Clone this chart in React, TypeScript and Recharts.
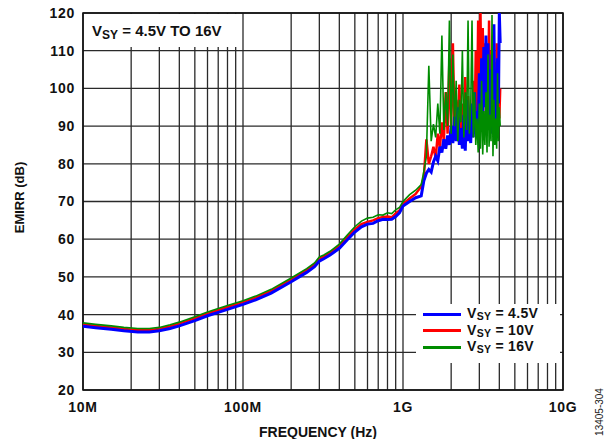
import React from 'react';
import { LineChart, Line, XAxis, YAxis, CartesianGrid, ReferenceArea } from 'recharts';

// Frequencies in MHz
const FREQ_MHZ = [
  10, 12, 15, 18, 22, 26, 30, 35, 40, 50, 60, 70, 80, 100, 120, 150, 200, 250, 280, 300,
  320, 350, 400, 450, 500, 550, 600, 650, 700, 750, 800, 850, 900, 950, 1000, 1100, 1200, 1300, 1350,
  1400, 1450, 1500, 1550, 1600, 1650, 1700, 1750, 1800, 1850, 1900, 1950, 2000, 2050, 2100, 2150,
  2200, 2250, 2300, 2350, 2400, 2450, 2500, 2550, 2600, 2650, 2700, 2750, 2800, 2850, 2900, 2950,
  3000, 3050, 3100, 3150, 3200, 3250, 3300, 3350, 3400, 3450, 3500, 3550, 3600, 3650, 3700, 3750,
  3800, 3850, 3900, 3950, 4000, 4050,
];

const EMIRR_4V5 = [
  36.9, 36.5, 36.1, 35.7, 35.4, 35.4, 35.7, 36.3, 37.0, 38.4, 39.7, 40.6, 41.4, 42.7, 43.9, 45.7, 48.7, 51.2, 52.7, 54.2,
  54.8, 55.8, 57.6, 59.9, 61.9, 63.3, 64.0, 64.2, 64.9, 65.3, 65.2, 65.3, 66.0, 67.0, 68.8, 70.0, 71.0, 71.5, 75.5,
  77.5, 78.5, 77.8, 80.5, 82.0, 80.8, 84.5, 83.0, 86.5, 84.0, 87.5, 85.0, 90.0, 85.5, 92.5, 86.0,
  95.0, 85.0, 89.5, 84.0, 93.0, 83.5, 97.0, 86.0, 91.0, 85.5, 96.0, 87.0, 99.0, 88.0, 94.0, 89.0,
  104.0, 90.0, 108.0, 92.0, 111.0, 95.0, 114.0, 98.0, 112.0, 92.0, 105.0, 88.0, 109.0, 90.0, 117.0, 93.0,
  104.0, 89.0, 108.0, 96.0, 120.0, 112.0,
];

const EMIRR_10V = [
  37.4, 37.0, 36.6, 36.2, 35.9, 35.9, 36.2, 36.9, 37.6, 39.0, 40.3, 41.2, 42.0, 43.3, 44.5, 46.3, 49.3, 51.8, 53.3, 54.8,
  55.4, 56.4, 58.2, 60.6, 62.6, 64.0, 64.6, 65.0, 65.6, 65.9, 66.0, 65.8, 66.8, 67.6, 69.3, 70.8, 72.0, 74.0, 76.5,
  86.5, 80.0, 82.0, 84.5, 81.5, 88.0, 84.0, 91.0, 86.0, 99.0, 88.0, 108.0, 90.0, 112.0, 89.0, 97.0,
  87.0, 101.0, 88.5, 96.0, 86.0, 103.0, 89.0, 98.0, 87.0, 94.0, 90.0, 102.0, 88.0, 110.0, 92.0, 118.0,
  100.0, 120.0, 94.0, 116.0, 98.0, 112.0, 92.0, 106.0, 95.0, 118.0, 93.0, 110.0, 91.0, 114.0, 97.0, 107.0,
  90.0, 112.0, 95.0, 104.0, 92.0, 100.0,
];

const EMIRR_16V = [
  37.8, 37.4, 37.0, 36.6, 36.3, 36.3, 36.6, 37.3, 38.0, 39.4, 40.7, 41.6, 42.4, 43.7, 44.9, 46.7, 49.7, 52.2, 53.7, 55.3,
  55.8, 56.8, 58.7, 61.2, 63.3, 64.8, 65.6, 65.8, 66.5, 66.4, 67.0, 66.8, 67.8, 68.4, 70.0, 71.8, 73.0, 74.5, 78.0,
  82.0, 106.0, 86.0, 90.5, 87.0, 96.0, 88.0, 114.0, 89.0, 99.0, 90.0, 118.0, 88.0, 109.0, 90.0, 102.0,
  86.0, 97.0, 91.0, 110.0, 87.0, 99.0, 89.0, 118.0, 88.0, 95.0, 118.0, 87.0, 99.0, 85.0, 92.0, 83.0,
  96.0, 84.0, 102.0, 82.5, 94.0, 85.0, 99.0, 83.0, 109.0, 84.5, 93.0, 86.0, 119.5, 82.0, 97.0, 85.0,
  92.0, 84.0, 104.0, 86.0, 95.0, 90.0,
];

const Y_TICKS = [20, 30, 40, 50, 60, 70, 80, 90, 100, 110, 120];
const X_TICKS = [
  1e7, 2e7, 3e7, 4e7, 5e7, 6e7, 7e7, 8e7, 9e7,
  1e8, 2e8, 3e8, 4e8, 5e8, 6e8, 7e8, 8e8, 9e8,
  1e9, 2e9, 3e9, 4e9, 5e9, 6e9, 7e9, 8e9, 9e9,
  1e10,
];
const X_LABELS: Record<number, string> = { 1e7: '10M', 1e8: '100M', 1e9: '1G', 1e10: '10G' };

const SERIES = [
  { key: 'v45', sub: '4.5V', color: '#0000ff' },
  { key: 'v10', sub: '10V', color: '#ff0000' },
  { key: 'v16', sub: '16V', color: '#008c00' },
];

const data = FREQ_MHZ.map((f, i) => ({
  f: f * 1e6,
  v45: EMIRR_4V5[i],
  v10: EMIRR_10V[i],
  v16: EMIRR_16V[i],
}));

const FONT = '"Liberation Sans", Arial, sans-serif';
const TICK_STYLE = { fontFamily: FONT, fontWeight: 'bold', fontSize: 14, fill: '#111', letterSpacing: 0.7 };

const Vsy = ({ rest, sub, drop }: { rest: string; sub: number; drop: number }) => (
  <span style={{ whiteSpace: 'nowrap' }}>
    V<span style={{ fontSize: sub, position: 'relative', top: drop }}>SY</span> = {rest}
  </span>
);

export default function App() {
  return (
    <div style={{ position: 'absolute', left: 0, top: 0, width: 608, height: 439, background: '#fff' }}>
      <LineChart width={608} height={439} data={data} margin={{ top: 13, right: 45, bottom: 0, left: 0 }}>
        <CartesianGrid stroke="#2a2a2a" strokeWidth={1.3} horizontalValues={Y_TICKS} verticalValues={X_TICKS} />
        <XAxis
          dataKey="f"
          type="number"
          scale="log"
          domain={[1e7, 1e10]}
          ticks={X_TICKS}
          interval={0}
          allowDataOverflow
          height={49}
          tickLine={false}
          axisLine={false}
          tickMargin={6}
          tickFormatter={(v: number) => X_LABELS[v] ?? ''}
          tick={TICK_STYLE}
          label={(p: any) => {
            const vb = p.viewBox || {};
            return (
              <text
                x={vb.x + vb.width / 2 - 5}
                y={vb.y + 47}
                textAnchor="middle"
                fontFamily={FONT}
                fontWeight="bold"
                fontSize={14}
                fill="#111"
              >
                FREQUENCY (Hz)
              </text>
            );
          }}
        />
        <YAxis
          type="number"
          domain={[20, 120]}
          ticks={Y_TICKS}
          interval={0}
          width={83}
          tickLine={false}
          axisLine={false}
          tick={TICK_STYLE}
          label={(p: any) => {
            const vb = p.viewBox || {};
            const cx = 19;
            const cy = vb.y + vb.height / 2 - 4;
            return (
              <text
                x={cx}
                y={cy}
                transform={`rotate(-90 ${cx} ${cy})`}
                textAnchor="middle"
                dominantBaseline="central"
                fontFamily={FONT}
                fontWeight="bold"
                fontSize={13}
                fill="#111"
              >
                EMIRR (dB)
              </text>
            );
          }}
        />
        <ReferenceArea x1={1e7} x2={1e10} y1={20} y2={120} fill="none" stroke="#111" strokeWidth={1.6} ifOverflow="visible" />
        <Line type="linear" dataKey="v10" stroke="#ff0000" strokeWidth={2.5} dot={false} isAnimationActive={false} />
        <Line type="linear" dataKey="v45" stroke="#0000ff" strokeWidth={3} dot={false} isAnimationActive={false} />
        <Line type="linear" dataKey="v16" stroke="#008c00" strokeWidth={1.6} dot={false} isAnimationActive={false} />
      </LineChart>
      <div
        style={{
          position: 'absolute',
          left: 84,
          top: 14,
          width: 158,
          height: 33,
          background: '#fff',
          fontFamily: FONT,
          fontWeight: 'bold',
          fontSize: 15,
          color: '#111',
          boxSizing: 'border-box',
          paddingLeft: 8,
          paddingTop: 9,
          lineHeight: '15px',
        }}
      >
        <Vsy rest="4.5V TO 16V" sub={12} drop={3} />
      </div>
      <div
        style={{
          position: 'absolute',
          left: 416,
          top: 304,
          width: 144,
          height: 59,
          background: '#fff',
          fontFamily: FONT,
          fontWeight: 'bold',
          fontSize: 14,
          color: '#111',
          boxSizing: 'border-box',
          paddingTop: 2,
        }}
      >
        {SERIES.map((s) => (
          <div key={s.key} style={{ display: 'flex', alignItems: 'center', height: 16.5, marginLeft: 7 }}>
            <div style={{ width: 38, height: 3, background: s.color, marginRight: 6, flex: 'none' }} />
            <span style={{ lineHeight: '13px', display: 'inline-block', letterSpacing: 0.3 }}>
              <Vsy rest={s.sub} sub={10.5} drop={2} />
            </span>
          </div>
        ))}
      </div>
      <div
        style={{
          position: 'absolute',
          left: 599,
          top: 412,
          transform: 'translate(-50%, -50%) rotate(-90deg)',
          fontFamily: FONT,
          fontSize: 10,
          color: '#222',
          whiteSpace: 'nowrap',
        }}
      >
        13405-304
      </div>
    </div>
  );
}
